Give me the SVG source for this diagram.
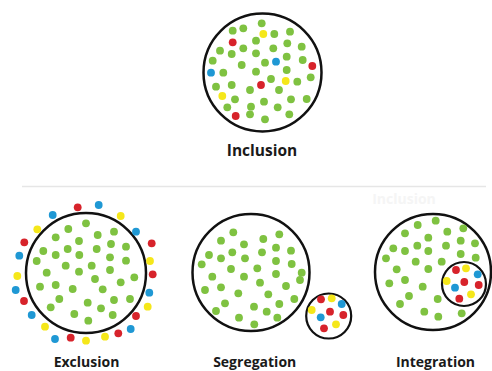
<svg xmlns="http://www.w3.org/2000/svg" width="492" height="371" viewBox="0 0 492 371">
<style>
.ring{fill:none;stroke:#111;stroke-width:2.5}
.g{fill:#7fc241}
.r{fill:#d7232b}
.y{fill:#f5e71a}
.b{fill:#1f98d4}
.lbl{font-family:"Open Sans","Noto Sans","Liberation Sans",sans-serif;font-weight:bold;fill:#1a1a1a;text-anchor:middle}
</style>
<rect width="492" height="371" fill="#ffffff"/>
<line x1="22" y1="186.5" x2="486" y2="186.5" stroke="#e6e6e6" stroke-width="1.5"/>
<text x="404" y="204" class="lbl" style="font-size:14px;fill:#f5f5f5">Inclusion</text>

<g id="inclusion">
<circle class="ring" cx="262.5" cy="72.5" r="59"/>
<circle class="g" cx="232.7" cy="30.7" r="3.9"/><circle class="g" cx="243.3" cy="28.3" r="3.9"/><circle class="g" cx="261.7" cy="23.3" r="3.9"/><circle class="y" cx="263.3" cy="34" r="3.9"/><circle class="g" cx="274.3" cy="34" r="3.9"/><circle class="g" cx="290" cy="31.7" r="3.9"/>
<circle class="r" cx="232.7" cy="42.3" r="3.9"/><circle class="g" cx="256" cy="40.7" r="3.9"/><circle class="g" cx="287.3" cy="43.3" r="3.9"/><circle class="g" cx="220" cy="50.7" r="3.9"/><circle class="g" cx="243.3" cy="48.3" r="3.9"/><circle class="g" cx="273.3" cy="48.3" r="3.9"/><circle class="g" cx="301.7" cy="46.7" r="3.9"/>
<circle class="g" cx="231.7" cy="54" r="3.9"/><circle class="g" cx="256" cy="53.3" r="3.9"/><circle class="g" cx="286.7" cy="56.7" r="3.9"/><circle class="g" cx="212.7" cy="60.7" r="3.9"/><circle class="g" cx="241.7" cy="65" r="3.9"/><circle class="g" cx="265" cy="62.7" r="3.9"/><circle class="b" cx="276" cy="61.7" r="3.9"/><circle class="g" cx="302.7" cy="60" r="3.9"/><circle class="r" cx="312.3" cy="66" r="3.9"/>
<circle class="g" cx="286.7" cy="70" r="3.9"/><circle class="b" cx="211" cy="72.7" r="3.9"/><circle class="g" cx="223.3" cy="72.7" r="3.9"/><circle class="g" cx="256" cy="71.7" r="3.9"/><circle class="g" cx="271" cy="79" r="3.9"/><circle class="y" cx="285.7" cy="81" r="3.9"/><circle class="g" cx="297.3" cy="81.7" r="3.9"/><circle class="g" cx="310.7" cy="77.3" r="3.9"/>
<circle class="g" cx="216" cy="86.7" r="3.9"/><circle class="g" cx="231.7" cy="85" r="3.9"/><circle class="r" cx="261" cy="85" r="3.9"/><circle class="g" cx="250" cy="90" r="3.9"/><circle class="g" cx="279" cy="90" r="3.9"/><circle class="y" cx="222.3" cy="96" r="3.9"/><circle class="g" cx="235" cy="99.3" r="3.9"/><circle class="g" cx="264" cy="101.7" r="3.9"/><circle class="g" cx="291" cy="99.3" r="3.9"/><circle class="g" cx="306.7" cy="99" r="3.9"/>
<circle class="g" cx="227.3" cy="107.3" r="3.9"/><circle class="g" cx="251" cy="106.7" r="3.9"/><circle class="g" cx="277.7" cy="107.3" r="3.9"/><circle class="r" cx="235.7" cy="116" r="3.9"/><circle class="g" cx="250" cy="114.3" r="3.9"/><circle class="g" cx="265" cy="119.3" r="3.9"/><circle class="g" cx="289.3" cy="114.3" r="3.9"/>
<text x="262" y="156" class="lbl" style="font-size:15.5px">Inclusion</text>
</g>

<g id="exclusion">
<circle class="ring" cx="86" cy="273" r="60"/>
<circle class="r" cx="77.7" cy="207.3" r="3.9"/><circle class="b" cx="98.7" cy="205" r="3.9"/><circle class="b" cx="52.7" cy="215" r="3.9"/><circle class="y" cx="120.7" cy="216" r="3.9"/><circle class="y" cx="37.3" cy="229.3" r="3.9"/><circle class="b" cx="136" cy="231.7" r="3.9"/><circle class="r" cx="24.3" cy="242.3" r="3.9"/><circle class="r" cx="151.7" cy="243.3" r="3.9"/><circle class="b" cx="19.3" cy="255.7" r="3.9"/><circle class="y" cx="150" cy="261" r="3.9"/><circle class="r" cx="152.7" cy="274.3" r="3.9"/><circle class="y" cx="17.3" cy="276" r="3.9"/><circle class="b" cx="15.7" cy="290" r="3.9"/><circle class="b" cx="149.3" cy="292.7" r="3.9"/><circle class="r" cx="24" cy="301" r="3.9"/><circle class="y" cx="147.7" cy="306.7" r="3.9"/><circle class="b" cx="31.7" cy="315" r="3.9"/><circle class="r" cx="136" cy="316" r="3.9"/><circle class="y" cx="45" cy="326.7" r="3.9"/><circle class="b" cx="130.7" cy="329" r="3.9"/><circle class="b" cx="55" cy="339" r="3.9"/><circle class="r" cx="70.7" cy="337.7" r="3.9"/><circle class="y" cx="86" cy="340.7" r="3.9"/><circle class="y" cx="105" cy="336.7" r="3.9"/><circle class="r" cx="118.3" cy="333.3" r="3.9"/>
<circle class="g" cx="86" cy="223.3" r="3.9"/><circle class="g" cx="68.3" cy="229" r="3.9"/><circle class="g" cx="114" cy="231.7" r="3.9"/><circle class="g" cx="97.7" cy="235" r="3.9"/><circle class="g" cx="55.7" cy="237.3" r="3.9"/><circle class="g" cx="79" cy="241" r="3.9"/><circle class="g" cx="111" cy="244" r="3.9"/><circle class="g" cx="126" cy="246.7" r="3.9"/><circle class="g" cx="43.3" cy="251" r="3.9"/><circle class="g" cx="67.7" cy="249" r="3.9"/><circle class="g" cx="96.7" cy="249" r="3.9"/><circle class="g" cx="55.7" cy="255" r="3.9"/><circle class="g" cx="79.3" cy="255" r="3.9"/><circle class="g" cx="110" cy="257.3" r="3.9"/><circle class="g" cx="36.7" cy="261" r="3.9"/><circle class="g" cx="126" cy="260.7" r="3.9"/><circle class="g" cx="65.7" cy="265.7" r="3.9"/><circle class="g" cx="91.7" cy="265.7" r="3.9"/><circle class="g" cx="46.7" cy="272.7" r="3.9"/><circle class="g" cx="79" cy="271.7" r="3.9"/><circle class="g" cx="110" cy="270" r="3.9"/><circle class="g" cx="134.3" cy="277.3" r="3.9"/><circle class="g" cx="95" cy="279" r="3.9"/><circle class="g" cx="40" cy="286.7" r="3.9"/><circle class="g" cx="55.7" cy="285" r="3.9"/><circle class="g" cx="72.7" cy="289" r="3.9"/><circle class="g" cx="102.7" cy="289.3" r="3.9"/><circle class="g" cx="120.7" cy="282.3" r="3.9"/><circle class="g" cx="59.3" cy="299" r="3.9"/><circle class="g" cx="87.7" cy="302.7" r="3.9"/><circle class="g" cx="114" cy="300" r="3.9"/><circle class="g" cx="130" cy="299" r="3.9"/><circle class="g" cx="50.7" cy="307.3" r="3.9"/><circle class="g" cx="101" cy="308.3" r="3.9"/><circle class="g" cx="74.3" cy="314" r="3.9"/><circle class="g" cx="112.7" cy="315" r="3.9"/><circle class="g" cx="88.3" cy="320.7" r="3.9"/>
<text x="86.5" y="366.5" class="lbl" style="font-size:14px">Exclusion</text>
</g>

<g id="segregation">
<circle class="ring" cx="251" cy="272.5" r="58.5"/>
<circle class="g" cx="233.3" cy="232.3" r="3.9"/><circle class="g" cx="279.3" cy="234.3" r="3.9"/><circle class="g" cx="221" cy="240.7" r="3.9"/><circle class="g" cx="263.3" cy="239" r="3.9"/><circle class="g" cx="244" cy="244.3" r="3.9"/><circle class="g" cx="276" cy="247.7" r="3.9"/><circle class="g" cx="291" cy="250.7" r="3.9"/><circle class="g" cx="209" cy="255" r="3.9"/><circle class="g" cx="232.3" cy="252.3" r="3.9"/><circle class="g" cx="262" cy="252.3" r="3.9"/><circle class="g" cx="221" cy="258.3" r="3.9"/><circle class="g" cx="245" cy="258.3" r="3.9"/><circle class="g" cx="276" cy="261" r="3.9"/><circle class="g" cx="201.7" cy="264.3" r="3.9"/><circle class="g" cx="291.7" cy="264" r="3.9"/><circle class="g" cx="231" cy="269" r="3.9"/><circle class="g" cx="257.3" cy="268.3" r="3.9"/><circle class="g" cx="276" cy="274" r="3.9"/><circle class="g" cx="301.7" cy="272.7" r="3.9"/><circle class="g" cx="212.3" cy="276.7" r="3.9"/><circle class="g" cx="244" cy="276.7" r="3.9"/><circle class="g" cx="300" cy="280" r="3.9"/><circle class="g" cx="260" cy="282.7" r="3.9"/><circle class="g" cx="221" cy="287.3" r="3.9"/><circle class="g" cx="286" cy="286" r="3.9"/><circle class="g" cx="205" cy="290" r="3.9"/><circle class="g" cx="238.3" cy="293.3" r="3.9"/><circle class="g" cx="268.3" cy="294.3" r="3.9"/><circle class="g" cx="294.3" cy="299" r="3.9"/><circle class="g" cx="225" cy="303.3" r="3.9"/><circle class="g" cx="279.3" cy="304" r="3.9"/><circle class="g" cx="254" cy="306.7" r="3.9"/><circle class="g" cx="216" cy="311" r="3.9"/><circle class="g" cx="266.7" cy="311.7" r="3.9"/><circle class="g" cx="239" cy="317.7" r="3.9"/><circle class="g" cx="277.3" cy="317.7" r="3.9"/><circle class="g" cx="254.3" cy="324.3" r="3.9"/>
<circle cx="328.7" cy="316" r="22.5" fill="#fff" stroke="#111" stroke-width="2.2"/>
<circle class="r" cx="321" cy="299.3" r="3.9"/><circle class="y" cx="331.7" cy="298.3" r="3.9"/><circle class="b" cx="341.7" cy="304" r="3.9"/><circle class="y" cx="311.7" cy="310" r="3.9"/><circle class="r" cx="330" cy="311.7" r="3.9"/><circle class="r" cx="343.3" cy="315" r="3.9"/><circle class="b" cx="320.7" cy="317.3" r="3.9"/><circle class="y" cx="336" cy="324.3" r="3.9"/><circle class="r" cx="324" cy="328.3" r="3.9"/>
<text x="254.7" y="366.5" class="lbl" style="font-size:14px">Segregation</text>
</g>

<g id="integration">
<circle class="ring" cx="433" cy="272" r="58"/>
<circle class="g" cx="435.7" cy="220.7" r="3.9"/><circle class="g" cx="417.7" cy="225" r="3.9"/><circle class="g" cx="463.3" cy="228.3" r="3.9"/><circle class="g" cx="447.3" cy="231.7" r="3.9"/><circle class="g" cx="405" cy="233.3" r="3.9"/><circle class="g" cx="428.3" cy="237.7" r="3.9"/><circle class="g" cx="460.7" cy="240.7" r="3.9"/><circle class="g" cx="475" cy="243.3" r="3.9"/><circle class="g" cx="393.3" cy="248.3" r="3.9"/><circle class="g" cx="417.3" cy="245.7" r="3.9"/><circle class="g" cx="446" cy="245.7" r="3.9"/><circle class="g" cx="405" cy="251" r="3.9"/><circle class="g" cx="428.3" cy="251" r="3.9"/><circle class="g" cx="460.7" cy="254" r="3.9"/><circle class="g" cx="386" cy="258.3" r="3.9"/><circle class="g" cx="475.7" cy="257.7" r="3.9"/><circle class="g" cx="415.7" cy="261.7" r="3.9"/><circle class="g" cx="441.7" cy="261.7" r="3.9"/><circle class="g" cx="396.7" cy="269.3" r="3.9"/><circle class="g" cx="428.3" cy="269" r="3.9"/><circle class="g" cx="389.3" cy="283.3" r="3.9"/><circle class="g" cx="405" cy="280" r="3.9"/><circle class="g" cx="422.7" cy="286.7" r="3.9"/><circle class="g" cx="409" cy="296" r="3.9"/><circle class="g" cx="437.7" cy="299" r="3.9"/><circle class="g" cx="400" cy="304" r="3.9"/><circle class="g" cx="424.3" cy="311.7" r="3.9"/><circle class="g" cx="438.3" cy="316.7" r="3.9"/><circle class="g" cx="461.7" cy="313.3" r="3.9"/>
<circle cx="464" cy="284" r="22" fill="#fff" stroke="#111" stroke-width="2.2"/>
<circle class="r" cx="456" cy="270" r="3.9"/><circle class="y" cx="466" cy="268.3" r="3.9"/><circle class="b" cx="477.7" cy="274.3" r="3.9"/><circle class="y" cx="446.7" cy="281" r="3.9"/><circle class="r" cx="464.3" cy="282" r="3.9"/><circle class="r" cx="478.7" cy="285" r="3.9"/><circle class="b" cx="455" cy="287.7" r="3.9"/><circle class="y" cx="471" cy="294.3" r="3.9"/><circle class="r" cx="459.3" cy="298.7" r="3.9"/>
<text x="435.5" y="366.5" class="lbl" style="font-size:14px">Integration</text>
</g>
</svg>
